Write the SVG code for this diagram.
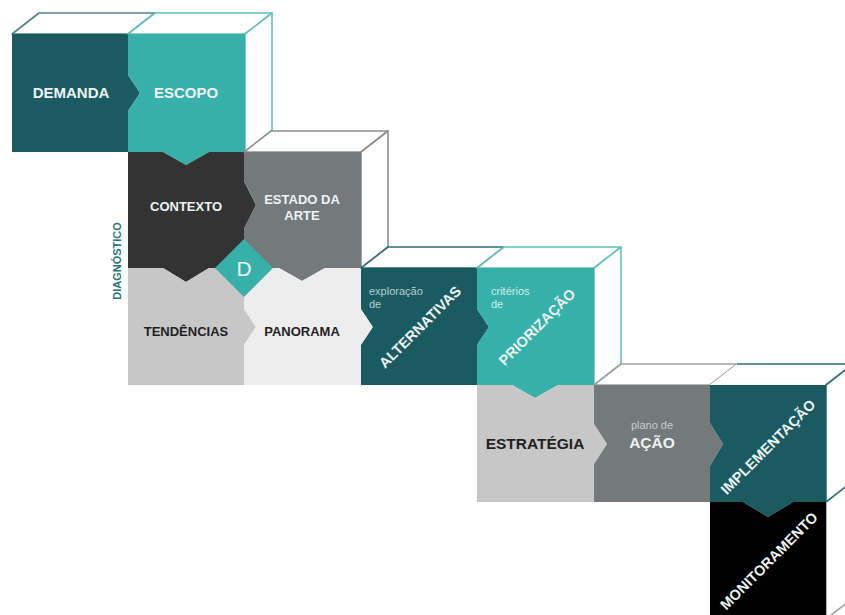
<svg xmlns="http://www.w3.org/2000/svg" width="845" height="615" viewBox="0 0 845 615">
  <style>
    text { font-family: "Liberation Sans", Arial, sans-serif; }
    .lbl { font-weight: bold; text-anchor: middle; }
    .lt { fill: #eef3f3; }
    .dk { fill: #1f1f1f; }
    .sm { font-size: 11px; }
    .rot { font-size: 14.5px; font-weight: bold; text-anchor: middle; fill: #eef3f3; }
    .face { fill: #ffffff; stroke-width: 1.6; stroke-linejoin: round; }
    .s-dteal { stroke: #2f6f75; }
    .s-dteal0 { stroke: #4b8489; }
    .s-teal { stroke: #62c2ba; }
    .s-gray { stroke: #8c8f90; }
    .s-lgray { stroke: #a0a2a3; }
    .c-dteal { fill: #1a5b61; }
    .c-teal { fill: #36b0a9; }
    .c-char { fill: #333333; }
    .c-gray { fill: #74797b; }
    .c-lgray { fill: #c8c7c8; }
    .c-pale { fill: #ededed; }
    .c-black { fill: #000000; }
  </style>

  <!-- row 1 -->
  <g id="demanda">
    <path class="face s-dteal0" d="M12,34 L39,13 H155 L128,34 Z"/>
    <path class="c-dteal" d="M12,34 H128 V75 L140,93 L128,111 V152 H12 Z"/>
    <text class="lbl lt" x="71" y="98" font-size="15">DEMANDA</text>
  </g>
  <g id="escopo">
    <path class="face s-teal" d="M128,34 L155,13 H272 L245,34 Z"/>
    <path class="face s-teal" d="M245,34 L272,13 V131 L245,152 Z"/>
    <path class="c-teal" d="M128,34 H245 V152 H209 L186,165 L163,152 H128 V111 L140,93 L128,75 Z"/>
    <text class="lbl lt" x="186" y="98" font-size="15">ESCOPO</text>
  </g>

  <!-- row 2 -->
  <g id="contexto">
    <path class="c-char" d="M128,152 H163 L186,165 L209,152 H244 V181 L256,205 L244,229 V268 H209 L186,282 L163,268 H128 Z"/>
    <text class="lbl lt" x="186" y="211" font-size="13">CONTEXTO</text>
  </g>
  <g id="estado-da-arte">
    <path class="face s-gray" d="M244,152 L271,131 H388 L361,152 Z"/>
    <path class="face s-gray" d="M361,152 L388,131 V247 L361,268 Z"/>
    <path class="c-gray" d="M244,152 H361 V268 H325 L302,281 L279,268 H244 V229 L256,205 L244,181 Z"/>
    <text class="lbl lt" x="302" y="204" font-size="13">ESTADO DA</text>
    <text class="lbl lt" x="302" y="220" font-size="13">ARTE</text>
  </g>

  <!-- row 3 -->
  <g id="tendencias">
    <path class="c-lgray" d="M128,268 H163 L186,282 L209,268 H244 V309 L256,327 L244,345 V385 H128 Z"/>
    <text class="lbl dk" x="186" y="336" font-size="13">TENDÊNCIAS</text>
  </g>
  <g id="panorama">
    <path class="c-pale" d="M244,268 H279 L302,281 L325,268 H361 V309 L373,327 L361,345 V385 H244 V345 L256,327 L244,309 Z"/>
    <text class="lbl dk" x="302" y="336" font-size="13">PANORAMA</text>
  </g>
  <g id="diagnostico">
    <path class="c-teal" d="M244,239 L273,268 L244,297 L215,268 Z"/>
    <text x="244" y="276" font-size="21" text-anchor="middle" fill="#eef3f3">D</text>
    <text transform="translate(121,261) rotate(-90)" font-size="11" font-weight="bold" text-anchor="middle" fill="#24777e">DIAGNÓSTICO</text>
  </g>
  <g id="alternativas">
    <path class="face s-dteal" d="M361,268 L388,247 H504 L477,268 Z"/>
    <path class="c-dteal" d="M361,268 H477 V309 L489,327 L477,345 V385 H361 V345 L373,327 L361,309 Z"/>
    <text class="sm" x="369" y="295" fill="#b7cdce">exploração</text>
    <text class="sm" x="369" y="308" fill="#b7cdce">de</text>
    <text class="rot" transform="translate(420,327) rotate(-45)" y="5">ALTERNATIVAS</text>
  </g>
  <g id="priorizacao">
    <path class="face s-teal" d="M477,268 L504,247 H621 L594,268 Z"/>
    <path class="face s-teal" d="M594,268 L621,247 V364 L594,385 Z"/>
    <path class="c-teal" d="M477,268 H594 V385 H558 L535,398 L512,385 H477 V345 L489,327 L477,309 Z"/>
    <text class="sm" x="491" y="295" fill="#d3eeea">critérios</text>
    <text class="sm" x="491" y="308" fill="#d3eeea">de</text>
    <text class="rot" transform="translate(537,327) rotate(-45)" y="5">PRIORIZAÇÃO</text>
  </g>

  <!-- row 4 -->
  <g id="estrategia">
    <path class="c-lgray" d="M477,385 H512 L535,398 L558,385 H594 V424 L607,444 L594,464 V502 H477 Z"/>
    <text class="lbl dk" x="535" y="449" font-size="15.5">ESTRATÉGIA</text>
  </g>
  <g id="plano-de-acao">
    <path class="face s-lgray" d="M594,385 L621,364 H737 L710,385 Z"/>
    <path class="c-gray" d="M594,385 H710 V423 L723,444 L710,466 V502 H594 V464 L607,444 L594,424 Z"/>
    <text class="sm" x="652" y="429" text-anchor="middle" fill="#c9cccd">plano de</text>
    <text class="lbl lt" x="652" y="448" font-size="15.5">AÇÃO</text>
  </g>
  <g id="implementacao">
    <path d="M710,385 L737,364 H853 L826,385 Z" fill="#ffffff"/>
    <path class="face s-dteal" d="M737,364 H853 M826,385 L853,364" fill="none"/>
    <path class="face s-dteal" d="M826,385 L853,364 V481 L826,502 Z"/>
    <path class="c-dteal" d="M710,385 H826 V502 H793 L768,517 L743,502 H710 V466 L723,444 L710,423 Z"/>
    <text class="rot" transform="translate(768,447) rotate(-45)" y="5">IMPLEMENTAÇÃO</text>
  </g>

  <!-- row 5 -->
  <g id="monitoramento">
    <path class="face s-lgray" d="M826,502 V619 L853,598" fill="none"/>
    <path class="c-black" d="M710,502 H743 L768,517 L793,502 H826 V620 H710 Z"/>
    <text class="rot" transform="translate(769,561) rotate(-45)" y="5">MONITORAMENTO</text>
  </g>

  <!-- connectors: every step hands over through the chevrons cut into the block edges -->
  <g id="connectors"></g>
</svg>
